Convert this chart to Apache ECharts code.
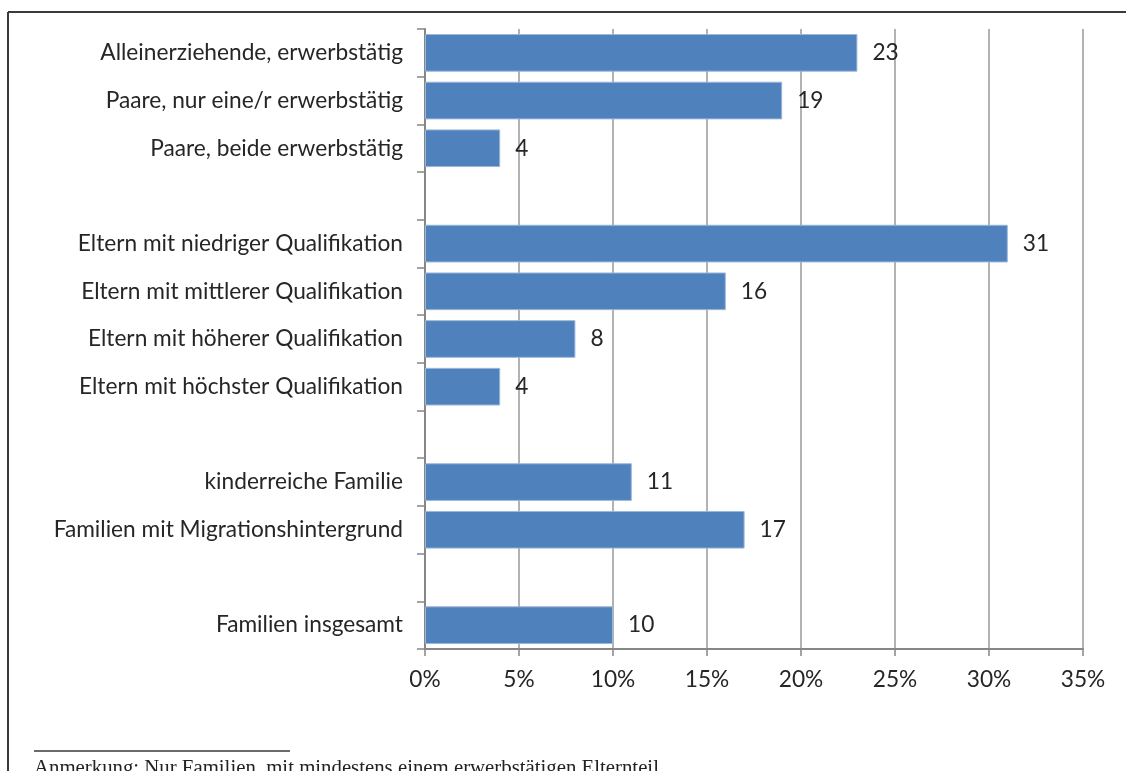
<!DOCTYPE html>
<html>
<head>
<meta charset="utf-8">
<script src="https://cdn.jsdelivr.net/npm/echarts@6/dist/echarts.min.js"></script>
<style>
  html, body { margin: 0; padding: 0; background: #fff; }
  #chart { width: 1126px; height: 771px; }
</style>
</head>
<body>
<div id="chart"></div>
<script>
// Kategorien von oben nach unten; leere Einträge sind Abstände zwischen den Gruppen
const categories = [
  'Alleinerziehende, erwerbstätig',
  'Paare, nur eine/r erwerbstätig',
  'Paare, beide erwerbstätig',
  '',
  'Eltern mit niedriger Qualifikation',
  'Eltern mit mittlerer Qualifikation',
  'Eltern mit höherer Qualifikation',
  'Eltern mit höchster Qualifikation',
  '',
  'kinderreiche Familie',
  'Familien mit Migrationshintergrund',
  '',
  'Familien insgesamt'
];
// Anteile in Prozent (null = Lücke)
const values = [23, 19, 4, null, 31, 16, 8, 4, null, 11, 17, null, 10];
// Achsenbereich in Prozent
const axisMin = 0;
const axisMax = 35;
const axisStep = 5;
const footnote = 'Anmerkung: Nur Familien, mit mindestens einem erwerbstätigen Elternteil.';

const FONT = 'Lato, "Open Sans", sans-serif';
const chart = echarts.init(document.getElementById('chart'), null, { renderer: 'canvas' });

chart.setOption({
  animation: false,
  backgroundColor: '#ffffff',
  grid: { left: 425, right: 43, top: 29, bottom: 122, containLabel: false },
  xAxis: {
    type: 'value',
    min: axisMin,
    max: axisMax,
    interval: axisStep,
    axisLine: { show: true, lineStyle: { color: '#868686', width: 2 } },
    axisTick: { show: true, length: 7, lineStyle: { color: '#868686', width: 1.5 } },
    splitLine: { show: true, lineStyle: { color: '#9a9a9a', width: 1.5 } },
    axisLabel: {
      formatter: '{value}%',
      color: '#262626',
      fontFamily: FONT,
      fontSize: 22.7,
      margin: 19
    }
  },
  yAxis: {
    type: 'category',
    inverse: true,
    data: categories,
    axisLine: { show: true, lineStyle: { color: '#868686', width: 2 } },
    axisTick: { show: true, length: 8, alignWithLabel: false, lineStyle: { color: '#868686', width: 1.5 } },
    splitLine: { show: false },
    axisLabel: {
      color: '#262626',
      fontFamily: FONT,
      fontSize: 22.7,
      margin: 22
    }
  },
  series: [{
    type: 'bar',
    data: values,
    barCategoryGap: '21%',
    itemStyle: { color: '#4f81bd', borderColor: '#9bb7da', borderWidth: 1 },
    label: {
      show: true,
      position: 'right',
      distance: 15,
      color: '#262626',
      fontFamily: FONT,
      fontSize: 22.7
    }
  }],
  graphic: [
    // Rahmen oben und links
    { type: 'line', shape: { x1: 8, y1: 12, x2: 1126, y2: 12 }, style: { stroke: '#3a3a3a', lineWidth: 2 } },
    { type: 'line', shape: { x1: 8, y1: 12, x2: 8, y2: 771 }, style: { stroke: '#3a3a3a', lineWidth: 2 } },
    // Fußnotenstrich und Anmerkung
    { type: 'line', shape: { x1: 34, y1: 751, x2: 290, y2: 751 }, style: { stroke: '#3a3a3a', lineWidth: 1.5 } },
    { type: 'text', left: 34, top: 758, style: { text: footnote, fill: '#222', font: '20.8px "Liberation Serif", "DejaVu Serif", serif' } }
  ]
});
</script>
</body>
</html>
